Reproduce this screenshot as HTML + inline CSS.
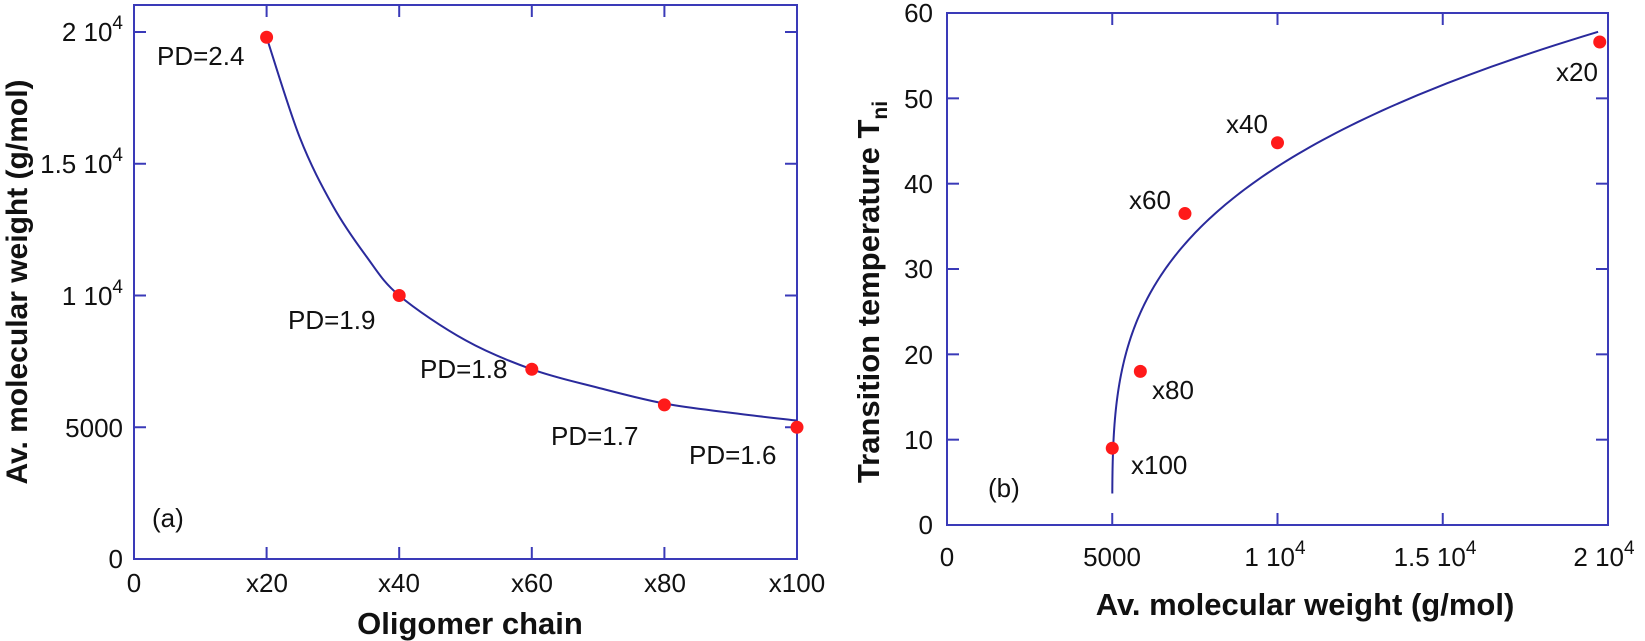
<!DOCTYPE html>
<html><head><meta charset="utf-8"><style>
html,body{margin:0;padding:0;background:#fff;}
svg{display:block;font-family:"Liberation Sans",Arial,sans-serif;}
</style></head><body>
<svg id="s" width="1645" height="641" viewBox="0 0 1645 641" xmlns="http://www.w3.org/2000/svg">
<g fill="none" stroke="#3a3ab8" stroke-width="2">
<rect x="134" y="5" width="663" height="554"/>
<rect x="947" y="13" width="661" height="512"/>
</g>
<g id="ticks" stroke="#3a3ab8" stroke-width="2"></g>
<path id="c1" fill="none" stroke="#2a2a9c" stroke-width="2"/>
<path id="c2" fill="none" stroke="#2a2a9c" stroke-width="2"/>
<g id="pts" fill="#ff1a1a"></g>
<g font-size="26" fill="#111">
<text x="123" y="41" text-anchor="end">2 10<tspan dy="-12" font-size="19">4</tspan></text>
<text x="123" y="173" text-anchor="end">1.5 10<tspan dy="-12" font-size="19">4</tspan></text>
<text x="123" y="305" text-anchor="end">1 10<tspan dy="-12" font-size="19">4</tspan></text>
<text x="123" y="437" text-anchor="end">5000</text>
<text x="123" y="568" text-anchor="end">0</text>
<text x="134" y="592" text-anchor="middle">0</text>
<text x="267" y="592" text-anchor="middle">x20</text>
<text x="399" y="592" text-anchor="middle">x40</text>
<text x="532" y="592" text-anchor="middle">x60</text>
<text x="665" y="592" text-anchor="middle">x80</text>
<text x="797" y="592" text-anchor="middle">x100</text>
<text x="157" y="65">PD=2.4</text>
<text x="288" y="329">PD=1.9</text>
<text x="420" y="378">PD=1.8</text>
<text x="551" y="445">PD=1.7</text>
<text x="689" y="464">PD=1.6</text>
<text x="152" y="527">(a)</text>
<text x="933" y="22" text-anchor="end">60</text>
<text x="933" y="108" text-anchor="end">50</text>
<text x="933" y="193" text-anchor="end">40</text>
<text x="933" y="278" text-anchor="end">30</text>
<text x="933" y="364" text-anchor="end">20</text>
<text x="933" y="449" text-anchor="end">10</text>
<text x="933" y="534" text-anchor="end">0</text>
<text x="947" y="566" text-anchor="middle">0</text>
<text x="1112" y="566" text-anchor="middle">5000</text>
<text x="1275" y="566" text-anchor="middle">1 10<tspan dy="-12" font-size="19">4</tspan></text>
<text x="1435" y="566" text-anchor="middle">1.5 10<tspan dy="-12" font-size="19">4</tspan></text>
<text x="1604" y="566" text-anchor="middle">2 10<tspan dy="-12" font-size="19">4</tspan></text>
<text x="1556" y="81">x20</text>
<text x="1226" y="133">x40</text>
<text x="1129" y="209">x60</text>
<text x="1152" y="399">x80</text>
<text x="1131" y="474">x100</text>
<text x="988" y="497">(b)</text>
</g>
<g font-size="31" font-weight="bold" fill="#111">
<text x="470" y="634" text-anchor="middle">Oligomer chain</text>
<text x="1305" y="615" text-anchor="middle">Av. molecular weight (g/mol)</text>
<text transform="translate(27,282) rotate(-90)" text-anchor="middle" font-size="30">Av. molecular weight (g/mol)</text>
<text transform="translate(879,292) rotate(-90)" text-anchor="middle">Transition temperature T<tspan dy="8" font-size="21">ni</tspan></text>
</g>
</svg>
<script>
var NS="http://www.w3.org/2000/svg";
var t=document.getElementById('ticks');
function ln(x1,y1,x2,y2){var l=document.createElementNS(NS,'line');l.setAttribute('x1',x1);l.setAttribute('y1',y1);l.setAttribute('x2',x2);l.setAttribute('y2',y2);t.appendChild(l);}
for(var i=1;i<5;i++){var x=134+i*132.6;ln(x,559,x,547);ln(x,5,x,17);}
for(var i=1;i<5;i++){var y=559-i*131.75;ln(134,y,146,y);ln(797,y,785,y);}
for(var i=1;i<4;i++){var x=947+i*165.25;ln(x,525,x,513);ln(x,13,x,25);}
for(var i=1;i<6;i++){var y=525-i*85.33;ln(947,y,959,y);ln(1608,y,1596,y);}
function X1(n){return 134+n*6.63;} function Y1(v){return 559-v*0.02635;}
var d=[[20,19800],[25,16000],[30,13400],[35,11500],[40,10000],[50,8300],[60,7200],[70,6500],[80,5900],[90,5550],[100,5250]];
var p=d.map(function(a){return [X1(a[0]),Y1(a[1])];});
var s="M"+p[0][0]+","+p[0][1];
for(var i=0;i<p.length-1;i++){var p0=p[Math.max(0,i-1)],p1=p[i],p2=p[i+1],p3=p[Math.min(p.length-1,i+2)];
s+=" C"+(p1[0]+(p2[0]-p0[0])/6)+","+(p1[1]+(p2[1]-p0[1])/6)+" "+(p2[0]-(p3[0]-p1[0])/6)+","+(p2[1]-(p3[1]-p1[1])/6)+" "+p2[0]+","+p2[1];}
document.getElementById('c1').setAttribute('d',s);
function X2(m){return 947+m*0.03305;} function Y2(T){return 525-T*8.533;}
var c=42/Math.pow(5000,0.296);var s2="";
for(var k=0;k<=300;k++){var dm=1.35*Math.pow(14700/1.35,k/300);var m=5000+dm;var T=c*Math.pow(dm,0.296);
s2+=(k?" L":"M")+X2(m).toFixed(2)+","+Y2(T).toFixed(2);}
document.getElementById('c2').setAttribute('d',s2);
var g=document.getElementById('pts');
function dot(x,y){var e=document.createElementNS(NS,'circle');e.setAttribute('cx',x);e.setAttribute('cy',y);e.setAttribute('r',6.5);g.appendChild(e);}
[[20,19800],[40,10000],[60,7200],[80,5850],[100,5000]].forEach(function(a){dot(X1(a[0]),Y1(a[1]));});
[[5000,9],[5850,18],[7200,36.5],[10000,44.8],[19750,56.6]].forEach(function(a){dot(X2(a[0]),Y2(a[1]));});
</script>
</body></html>
